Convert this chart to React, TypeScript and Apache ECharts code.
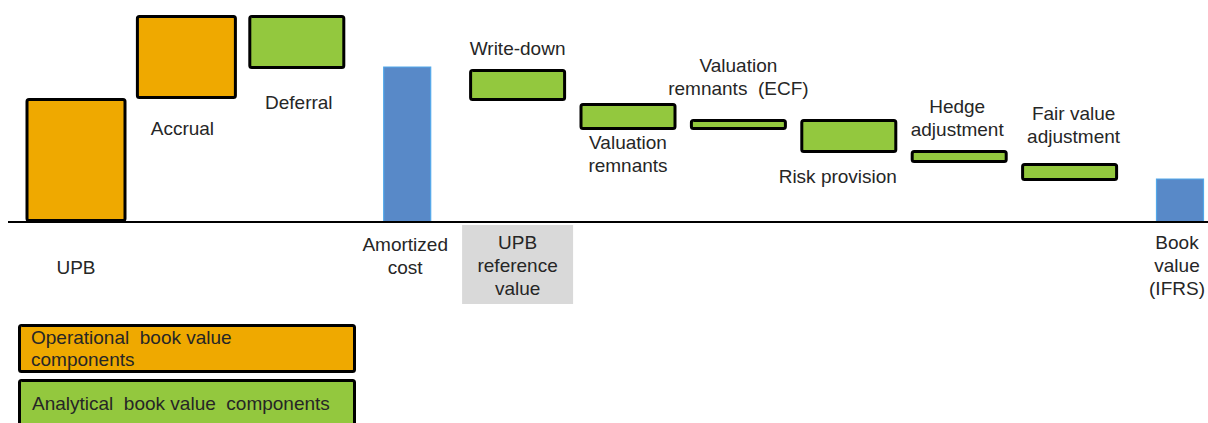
import React, { useEffect, useRef } from "react";
import * as echarts from "echarts";

// ---- data ----
const categories = [
  "UPB",
  "Accrual",
  "Deferral",
  "Amortized cost",
  "Write-down",
  "Valuation remnants",
  "Valuation remnants (ECF)",
  "Risk provision",
  "Hedge adjustment",
  "Fair value adjustment",
  "Book value (IFRS)",
];
const labelTexts = [
  "UPB",
  "Accrual",
  "Deferral",
  "Amortized\ncost",
  "Write-down",
  "Valuation\nremnants",
  "Valuation\nremnants  (ECF)",
  "Risk provision",
  "Hedge\nadjustment",
  "Fair value\nadjustment",
  "Book\nvalue\n(IFRS)",
];
const kinds = [
  "operational",
  "operational",
  "analytical",
  "total",
  "analytical",
  "analytical",
  "analytical",
  "analytical",
  "analytical",
  "analytical",
  "total",
];
const lows = [0, 123, 153, 0, 121, 92, 92, 69, 59, 41, 0];
const highs = [124, 207, 207, 155, 153, 119, 103, 103, 72, 59, 43];
const referenceIndex = 4;
const referenceNote = "UPB\nreference\nvalue";
const legendTexts = [
  "Operational  book value\ncomponents",
  "Analytical  book value  components",
];

// ---- layout / style (not data) ----
const labelLayout = [
  { anchor: "axis", dx: 0, dy: 45 },
  { anchor: "bottom", dx: -4, dy: 29 },
  { anchor: "bottom", dx: 2, dy: 33 },
  { anchor: "axis", dx: -2, dy: 22 },
  { anchor: "top", dx: 0, dy: -21 },
  { anchor: "bottom", dx: 0, dy: 12 },
  { anchor: "top", dx: 0, dy: -54 },
  { anchor: "bottom", dx: -11, dy: 23 },
  { anchor: "top", dx: -2, dy: -44 },
  { anchor: "top", dx: 4, dy: -50 },
  { anchor: "axis", dx: -3, dy: 20 },
];
const COLORS: Record<string, string> = {
  operational: "#EFA900",
  analytical: "#93C83E",
  total: "#5889C8",
};
const FONT = "'Liberation Sans', Arial, sans-serif";
const TEXT = "#262626";
const LINE_H = 23;

export default function App() {
  const ref = useRef<HTMLDivElement>(null);
  useEffect(() => {
    document.body.style.margin = "0";
    if (!ref.current) return;
    const chart = echarts.init(ref.current, undefined, { renderer: "svg" });
    const data = categories.map((c, i) => [i, lows[i], highs[i]]);

    chart.setOption({
      animation: false,
      grid: { left: 76, right: 28, top: 0, bottom: 201 },
      xAxis: {
        type: "category",
        data: categories,
        boundaryGap: false,
        show: false,
      },
      yAxis: { type: "value", min: 0, max: 222, show: false },
      series: [
        {
          type: "custom",
          clip: false,
          data,
          renderItem: (params: any, api: any) => {
            const i = api.value(0);
            const lo = api.coord([i, api.value(1)]);
            const hi = api.coord([i, api.value(2)]);
            const base = api.coord([i, 0]);
            const kind = kinds[i];
            const cx = lo[0];
            const children: any[] = [];
            if (kind === "total") {
              const w = 47;
              children.push({
                type: "rect",
                shape: { x: cx - w / 2, y: hi[1], width: w, height: lo[1] - hi[1] },
                style: { fill: COLORS.total, stroke: "#52A8EA", lineWidth: 1.2 },
              });
            } else {
              const w = kind === "operational" ? 101 : 97;
              children.push({
                type: "rect",
                shape: {
                  x: cx - w / 2 + 1.5,
                  y: hi[1] + 1.5,
                  width: w - 3,
                  height: lo[1] - hi[1] - 3,
                  r: 2,
                },
                style: { fill: COLORS[kind], stroke: "#000", lineWidth: 3 },
              });
            }
            const L = labelLayout[i];
            const anchorY =
              L.anchor === "top" ? hi[1] : L.anchor === "bottom" ? lo[1] : base[1];
            children.push({
              type: "text",
              style: {
                text: labelTexts[i],
                x: cx + L.dx,
                y: anchorY + L.dy - LINE_H / 2,
                align: "center",
                verticalAlign: "top",
                fontSize: 19,
                fontFamily: FONT,
                lineHeight: LINE_H,
                fill: TEXT,
              },
            });
            if (i === referenceIndex) {
              const bw = 111;
              const top = base[1] + 3;
              children.push({
                type: "rect",
                shape: { x: cx - bw / 2, y: top, width: bw, height: 79 },
                style: { fill: "#D9D9D9" },
              });
              children.push({
                type: "text",
                style: {
                  text: referenceNote,
                  x: cx,
                  y: top + 17 - LINE_H / 2,
                  align: "center",
                  verticalAlign: "top",
                  fontSize: 19,
                  fontFamily: FONT,
                  lineHeight: LINE_H,
                  fill: TEXT,
                },
              });
            }
            return { type: "group", children };
          },
        },
      ],
    });

    const zeroY = chart.convertToPixel({ yAxisIndex: 0 }, 0) as number;
    chart.setOption({
      graphic: [
        {
          id: "baseline",
          type: "line",
          z: 100,
          shape: { x1: 8, y1: zeroY, x2: 1208, y2: zeroY },
          style: { stroke: "#000", lineWidth: 2 },
        },
        {
          id: "leg1",
          type: "rect",
          shape: { x: 19.5, y: 325.5, width: 335, height: 46, r: 2 },
          style: { fill: COLORS.operational, stroke: "#000", lineWidth: 3 },
        },
        {
          id: "leg1t",
          type: "text",
          style: {
            text: legendTexts[0],
            x: 31,
            y: 326,
            fontSize: 19,
            fontFamily: FONT,
            lineHeight: 22,
            fill: TEXT,
          },
        },
        {
          id: "leg2",
          type: "rect",
          shape: { x: 19.5, y: 380.5, width: 335, height: 60, r: 2 },
          style: { fill: COLORS.analytical, stroke: "#000", lineWidth: 3 },
        },
        {
          id: "leg2t",
          type: "text",
          style: {
            text: legendTexts[1],
            x: 32,
            y: 392,
            fontSize: 19,
            fontFamily: FONT,
            lineHeight: 22,
            fill: TEXT,
          },
        },
      ],
    });

    return () => chart.dispose();
  }, []);
  return <div ref={ref} style={{ width: 1208, height: 423 }} />;
}
